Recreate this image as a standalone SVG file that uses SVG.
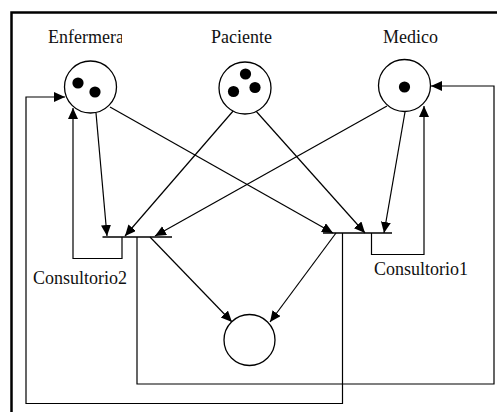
<svg xmlns="http://www.w3.org/2000/svg" width="497" height="412" viewBox="0 0 497 412">
  <style>
    .place { fill: #fff; stroke: #000; stroke-width: 1.3; }
    .token { fill: #000; }
    .bar { stroke: #000; stroke-width: 1.6; fill: none; }
    .edge { stroke: #000; stroke-width: 1.2; fill: none; }
    text { font-family: 'Liberation Serif', 'DejaVu Serif', serif; font-size: 18px; fill: #111; }
  </style>
  <defs>
    <marker id="arrow" markerUnits="userSpaceOnUse" markerWidth="12" markerHeight="11" refX="11" refY="5" orient="auto">
      <path d="M0,0 L11,5 L0,10 Z" fill="#000"/>
    </marker>
    <clipPath id="clipEnf">
      <rect x="0" y="0" width="122" height="60"/>
    </clipPath>
  </defs>

  <rect width="497" height="412" fill="#fff"/>
  <!-- outer frame (left and top edges) -->
  <path d="M11.5,412 V12.5 H497" fill="none" stroke="#000" stroke-width="2.5"/>

  <g id="connectors">
    <!-- places to transitions -->
    <line class="edge" x1="96" y1="113" x2="107" y2="236" marker-end="url(#arrow)"/>
    <line class="edge" x1="110" y1="107" x2="333" y2="233" marker-end="url(#arrow)"/>
    <line class="edge" x1="234" y1="110" x2="125" y2="236" marker-end="url(#arrow)"/>
    <line class="edge" x1="255" y1="110" x2="365" y2="233" marker-end="url(#arrow)"/>
    <line class="edge" x1="387" y1="106" x2="155" y2="236" marker-end="url(#arrow)"/>
    <line class="edge" x1="405" y1="112" x2="384" y2="233" marker-end="url(#arrow)"/>
    <!-- transitions to lower place -->
    <line class="edge" x1="150" y1="237" x2="232" y2="322" marker-end="url(#arrow)"/>
    <line class="edge" x1="336" y1="233" x2="270" y2="322" marker-end="url(#arrow)"/>
    <!-- return paths -->
    <path class="edge" d="M122,237 V258.5 H73 V108" marker-end="url(#arrow)"/>
    <path class="edge" d="M342.5,233 V403.5 H26 V97 H65" marker-end="url(#arrow)"/>
    <path class="edge" d="M137,237 V384 H494 V86 H431" marker-end="url(#arrow)"/>
    <path class="edge" d="M371.5,233 V254.5 H424 V106" marker-end="url(#arrow)"/>
  </g>

  <g id="enfermera">
    <text x="48" y="43" font-family="Liberation Serif, serif" clip-path="url(#clipEnf)">Enfermera</text>
    <circle class="place" cx="90.5" cy="87" r="26"/>
    <circle class="token" cx="78" cy="83" r="5.6"/>
    <circle class="token" cx="95" cy="92" r="5.6"/>
  </g>

  <g id="paciente">
    <text x="211" y="43" font-family="Liberation Serif, serif">Paciente</text>
    <circle class="place" cx="245" cy="88" r="26"/>
    <circle class="token" cx="245.5" cy="74" r="5.6"/>
    <circle class="token" cx="255" cy="87.5" r="5.6"/>
    <circle class="token" cx="233.5" cy="91.5" r="5.6"/>
  </g>

  <g id="medico">
    <text x="383" y="43" font-family="Liberation Serif, serif">Medico</text>
    <circle class="place" cx="404.5" cy="85.5" r="26"/>
    <circle class="token" cx="404.5" cy="87" r="5.6"/>
  </g>

  <g id="resultado">
    <circle class="place" cx="249.5" cy="340" r="25.5"/>
  </g>

  <g id="consultorio2">
    <line class="bar" x1="102.5" y1="237" x2="172" y2="237"/>
    <text x="33" y="284" font-family="Liberation Serif, serif">Consultorio2</text>
  </g>

  <g id="consultorio1">
    <line class="bar" x1="323" y1="233" x2="392" y2="233"/>
    <text x="374" y="275" font-family="Liberation Serif, serif">Consultorio1</text>
  </g>
</svg>
